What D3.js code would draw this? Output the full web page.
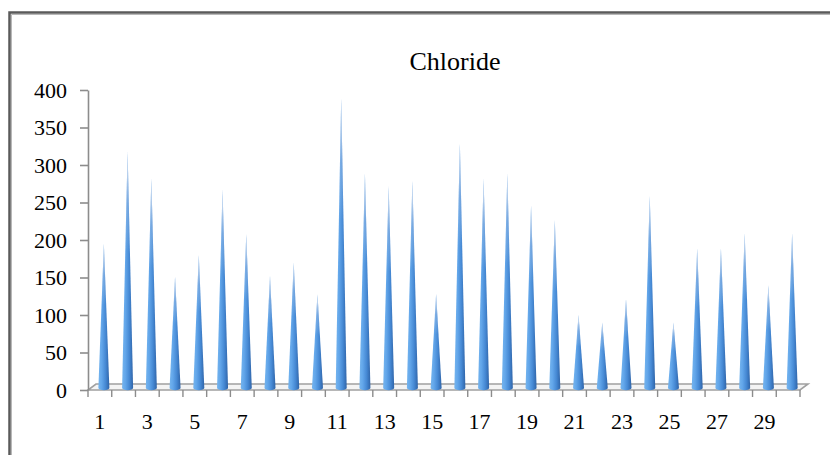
<!DOCTYPE html>
<html>
<head>
<meta charset="utf-8">
<script src="https://cdn.jsdelivr.net/npm/d3@7"></script>
<style>
  html, body { margin: 0; padding: 0; background: #fff; }
  svg { display: block; }
  text { font-family: "Liberation Serif", "Times New Roman", serif; fill: #000; }
</style>
</head>
<body>
<svg id="chart" width="830" height="455"></svg>
<script>
const categories = d3.range(1, 31).map(String);
const values = [195, 318, 282, 151, 180, 267, 208, 152, 170, 128,
                389, 289, 272, 279, 128, 329, 282, 289, 246, 227,
                100, 90, 121, 259, 90, 189, 189, 209, 140, 209];
const yTicks = [0, 50, 100, 150, 200, 250, 300, 350, 400];
const xLabels = categories.filter((c, i) => i % 2 === 0);
const chartTitle = "Chloride";

(function () {
const svg = d3.select("#chart");
const W = 830, H = 455;
const pLeft = 88, pRight = 800, pTop = 90, pBottom = 390;
const dx = 8, dy = -6; // 3D depth offset

const x = d3.scaleBand().domain(categories).range([pLeft, pRight]).paddingInner(0).paddingOuter(0);
const y = d3.scaleLinear().domain([0, 400]).range([pBottom, pTop]);

// defs: gradients
const defs = svg.append("defs");
const g1 = defs.append("linearGradient").attr("id", "coneH").attr("x1", "0").attr("x2", "1").attr("y1", "0").attr("y2", "0");
[["0", "#74b4ee"], ["0.3", "#62a6ea"], ["0.65", "#4689d4"], ["1", "#2f64a8"]].forEach(([o, c]) =>
  g1.append("stop").attr("offset", o).attr("stop-color", c));
const g2 = defs.append("linearGradient").attr("id", "coneV").attr("x1", "0").attr("x2", "0").attr("y1", "0").attr("y2", "1");
[["0", "#ffffff", 0.95], ["0.07", "#eef0f6", 0.75], ["0.22", "#c8d4ea", 0.3], ["0.42", "#ffffff", 0]].forEach(([o, c, op]) =>
  g2.append("stop").attr("offset", o).attr("stop-color", c).attr("stop-opacity", op));

// frame
svg.append("path").attr("d", `M9.5,${H} V12.5 H${W}`).attr("fill", "none")
  .attr("stroke", "#5a5a5a").attr("stroke-width", 2.5);
svg.append("path").attr("d", `M11.5,${H} V14.5 H${W}`).attr("fill", "none")
  .attr("stroke", "#b8b8b8").attr("stroke-width", 1);

// title
svg.append("text").attr("x", 455).attr("y", 70).attr("text-anchor", "middle")
  .attr("font-size", 26).text(chartTitle);

// floor
const floorPts = [[pLeft, pBottom], [pRight, pBottom], [pRight + dx, pBottom + dy], [pLeft + dx, pBottom + dy]];
svg.append("polygon").attr("points", floorPts.map(p => p.join(",")).join(" "))
  .attr("fill", "#f4f4f4").attr("stroke", "#a0a0a0").attr("stroke-width", 1.6);

// y axis
const yAxis = d3.axisLeft(y).tickValues(yTicks).tickSize(8).tickPadding(13).tickSizeOuter(0);
const ya = svg.append("g").attr("transform", `translate(${pLeft},0)`).call(yAxis);
ya.select(".domain").attr("stroke", "#8c8c8c").attr("stroke-width", 1.6);
ya.selectAll(".tick line").attr("stroke", "#8c8c8c").attr("stroke-width", 1.6);
ya.selectAll(".tick text").attr("font-size", 22).attr("font-family", "Liberation Serif").attr("fill", "#000");

// x axis: tick marks at band boundaries
const bounds = categories.map(c => x(c)).concat([pRight]);
svg.append("g").selectAll("line").data(bounds).join("line")
  .attr("x1", d => d).attr("x2", d => d).attr("y1", pBottom).attr("y2", pBottom + 7)
  .attr("stroke", "#8c8c8c").attr("stroke-width", 1.4);
const xAxis = d3.axisBottom(x).tickValues(xLabels).tickSize(0).tickPadding(23).tickSizeOuter(0);
const xa = svg.append("g").attr("transform", `translate(0,${pBottom})`).call(xAxis);
xa.select(".domain").remove();
xa.selectAll(".tick text").attr("font-size", 22).attr("font-family", "Liberation Serif").attr("fill", "#000");

// cones
const rx = 5.5, ry = 2.2;
const coneData = categories.map((c, i) => ({ c, v: values[i] }));
const coneG = svg.append("g");
function conePath(d) {
  const cx = x(d.c) + x.bandwidth() / 2 + dx / 2;
  const by = y(0) + dy / 2 + 1;
  const ty = y(d.v);
  return `M${cx - rx},${by} L${cx},${ty} L${cx + rx},${by} A${rx},${ry} 0 0 1 ${cx - rx},${by} Z`;
}
coneG.selectAll("path.cone").data(coneData).join("path").attr("class", "cone")
  .attr("d", conePath).attr("fill", "url(#coneH)");
coneG.selectAll("path.tip").data(coneData).join("path").attr("class", "tip")
  .attr("d", conePath).attr("fill", "url(#coneV)");
})();
</script>
</body>
</html>
